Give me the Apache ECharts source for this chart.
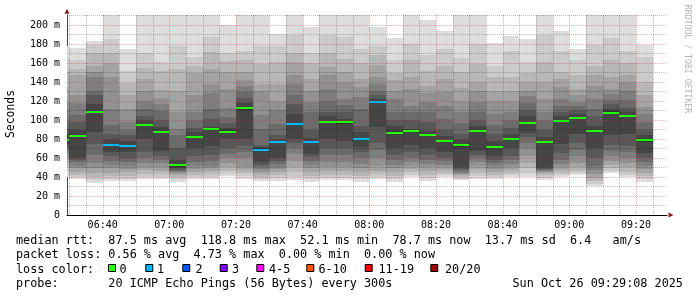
<!DOCTYPE html>
<html><head><meta charset="utf-8">
<script src="https://cdn.jsdelivr.net/npm/echarts@6/dist/echarts.min.js"></script>
<style>html,body{margin:0;padding:0;background:#fff}#c{width:697px;height:297px}</style>
</head><body><div id="c"></div>
<script>
// ---- data ----
const barStarts = ['06:25','06:30','06:35','06:40','06:45','06:50','06:55','07:00','07:05','07:10','07:15','07:20',
  '07:25','07:30','07:35','07:40','07:45','07:50','07:55','08:00','08:05','08:10','08:15','08:20',
  '08:25','08:30','08:35','08:40','08:45','08:50','08:55','09:00','09:05','09:10','09:15','09:20'];
// 20 sorted ping RTTs (ms) per 5-minute step
const pings = [
  [40,45,50,55,60,64,68,72,75,77,80,85,92,100,110,120,135,150,165,178],
  [38,40,42,45,49,52,56,58,60,82,84,89,98,105,118,126,147,154,163,176],
  [34,37,40,44,49,55,63,75,87,108,109,117,126,131,145,150,157,170,179,183],
  [36,38,41,44,49,53,57,62,66,73,75,80,85,95,112,145,160,171,185,215],
  [36,38,41,45,48,52,56,59,66,72,74,78,84,89,98,112,126,139,152,175],
  [38,40,43,47,51,55,60,66,80,94,96,100,104,112,120,130,143,155,170,215],
  [38,40,43,46,50,55,58,62,67,86,88,93,100,109,117,123,132,152,161,215],
  [35,38,40,42,44,45,46,47,49,51,53,58,70,84,91,108,130,154,178,215],
  [38,40,42,45,48,52,56,62,70,81,83,87,92,100,108,126,149,157,166,215],
  [38,40,43,46,49,52,57,63,73,90,91,93,101,112,128,138,154,172,187,215],
  [41,43,46,50,55,60,64,71,80,87,89,92,97,103,113,133,150,162,171,200],
  [38,41,44,47,51,60,66,73,80,111,114,118,123,129,136,142,150,163,173,215],
  [36,38,40,43,45,48,50,53,56,68,70,72,74,90,105,130,138,159,178,215],
  [36,39,42,45,48,51,54,57,60,76,78,80,84,96,111,120,138,161,178,191],
  [37,40,45,50,57,64,70,76,80,95,97,106,117,126,138,147,161,171,189,215],
  [35,38,41,45,49,53,57,61,64,76,78,81,89,108,119,130,143,160,171,198],
  [37,39,42,46,50,56,63,70,80,97,98,104,108,120,133,147,156,171,189,215],
  [37,39,42,46,50,56,63,70,78,96,98,101,108,116,122,140,150,164,187,212],
  [35,38,41,45,49,54,60,66,72,79,81,87,94,112,124,135,143,160,175,215],
  [38,40,43,46,52,60,68,76,93,118,120,122,126,131,138,145,158,168,178,198],
  [35,38,41,45,49,53,58,63,70,86,88,94,100,108,122,131,142,149,163,186],
  [40,42,45,48,52,56,60,66,74,88,89,91,100,108,115,133,145,163,180,215],
  [36,39,42,46,50,54,58,63,70,83,85,88,98,108,119,128,136,152,168,205],
  [40,42,44,47,50,53,57,60,66,77,79,83,89,101,115,129,143,157,175,194],
  [37,38,40,42,43,44,46,48,50,72,74,80,85,97,108,120,134,150,165,215],
  [38,41,44,48,52,56,60,63,67,87,89,94,100,108,119,130,140,159,180,215],
  [38,40,42,45,48,52,55,58,62,71,73,78,85,95,106,120,130,145,157,181],
  [40,42,44,47,50,54,58,62,70,79,81,85,92,100,108,120,130,145,173,188],
  [40,44,49,55,62,70,76,82,86,96,98,104,110,118,125,131,140,149,161,185],
  [37,39,42,44,45,46,47,48,50,76,78,82,89,100,108,122,140,161,189,215],
  [40,42,44,47,50,54,58,65,75,98,100,104,108,115,122,135,143,150,173,194],
  [42,44,46,50,55,62,68,76,85,102,103,106,110,115,119,126,133,147,163,175],
  [30,33,36,39,43,47,52,60,70,87,89,94,104,112,122,136,147,157,179,215],
  [44,46,49,53,57,62,67,74,84,107,109,112,117,121,127,133,145,163,186,215],
  [40,42,45,50,55,60,66,73,85,103,105,108,113,121,130,140,147,160,173,215],
  [35,38,41,44,48,52,56,60,65,77,79,84,89,98,106,114,126,140,166,179]
];
const medians = [78.5,83,108.7,74,72.8,95,87.4,52.1,81.8,90.5,87.7,112.6,68.8,77,95.8,76.8,97.4,97.4,80.2,118.8,
  86.5,88.4,84.2,77.8,73.4,88.4,71.9,80,97.2,77,99.3,102.6,88.4,107.7,104.2,78.5];
const lossCounts = [0,0,0,1,1,0,0,0,0,0,0,0,1,1,1,1,0,0,1,1,0,0,0,0,0,0,0,0,0,0,0,0,0,0,0,0];
const lossLabels = ['0','1','2','3','4-5','6-10','11-19','20/20'];
const lossColors = ['#26ff00','#00b8ff','#0059ff','#7e00ff','#ff00ff','#ff5500','#ff0000','#a10000'];
const xTickLabels = ['06:40','07:00','07:20','07:40','08:00','08:20','08:40','09:00','09:20'];
const yTickValues = [0,20,40,60,80,100,120,140,160,180,200];
const viewStart = '06:29:18', viewEnd = '09:29:18';
const yMax = 210.5;
const statLines = [
  'median rtt:  87.5 ms avg  118.8 ms max  52.1 ms min  78.7 ms now  13.7 ms sd  6.4   am/s',
  'packet loss: 0.56 % avg  4.73 % max  0.00 % min  0.00 % now'
];
const probeText = 'probe:       20 ICMP Echo Pings (56 Bytes) every 300s';
const dateText = 'Sun Oct 26 09:29:08 2025';

// ---- helpers ----
function toMin(s){ const p = s.split(':').map(Number); return p[0]*60 + p[1] + (p[2]||0)/60; }
function fmtMin(m){ const h = Math.floor(m/60), mm = Math.round(m%60); return String(h).padStart(2,'0')+':'+String(mm).padStart(2,'0'); }
function lossIndex(n){ if(n<=3) return n; if(n<=5) return 4; if(n<=10) return 5; if(n<=19) return 6; return 7; }

const smokeData = barStarts.map((s,i) => {
  const t = toMin(s);
  return [t, t+5].concat(pings[i]).concat([medians[i], lossCounts[i]]);
});
const xMin = toMin(viewStart), xMax = toMin(viewEnd);

// grid line positions
const gridData = [];
for (let m = Math.ceil(xMin/5)*5; m < xMax; m += 5) gridData.push([0, m, m % 20 === 0 ? 1 : 0]);
for (let v = 10; v <= 210; v += 10) gridData.push([1, v, v % 20 === 0 ? 1 : 0]);

const MONO = 'DejaVu Sans Mono';

function renderSmoke(params, api){
  const cs = params.coordSys;
  const t0 = api.value(0), t1 = api.value(1);
  const children = [];
  for (let k = 0; k < 10; k++){
    const lo = api.value(2+k), hi = api.value(21-k);
    const a = api.coord([t0, lo]), b = api.coord([t1, hi]);
    const x0 = Math.round(a[0]), x1 = Math.round(b[0]);
    const y0 = Math.round(b[1]), y1 = Math.round(a[1]);
    const shape = echarts.graphic.clipRectByRect({x:x0, y:y0, width:x1-x0, height:y1-y0}, cs);
    if (!shape) continue;
    const g = Math.floor(190/10*(10-(k+1))) + 50;
    children.push({type:'rect', shape, style:{fill:'rgb('+g+','+g+','+g+')'}});
  }
  const med = api.value(22), loss = api.value(23);
  const a = api.coord([t0, med]), b = api.coord([t1, med]);
  const x0 = Math.round(a[0]), x1 = Math.round(b[0]);
  const ym = Math.round(a[1]);
  const ms = echarts.graphic.clipRectByRect({x:x0, y:ym-1, width:x1-x0, height:2}, cs);
  if (ms) children.push({type:'rect', shape: ms, style:{fill: lossColors[lossIndex(loss)]}});
  return {type:'group', children};
}

function renderGrid(params, api){
  const cs = params.coordSys;
  const kind = api.value(0), v = api.value(1), major = api.value(2);
  const stroke = major ? 'rgba(210,40,40,0.38)' : 'rgba(0,0,0,0.26)';
  let shape;
  if (kind === 0){
    const x = Math.round(api.coord([v, 0])[0]) + 0.5;
    shape = {x1:x, y1:cs.y, x2:x, y2:cs.y+cs.height};
  } else {
    const y = Math.round(api.coord([xMin, v])[1]) + 0.5;
    shape = {x1:cs.x, y1:y, x2:cs.x+cs.width, y2:y};
  }
  return {type:'line', shape, style:{stroke, lineWidth:1, lineDash:[1,1]}, silent:true};
}

const chart = echarts.init(document.getElementById('c'), null, {renderer:'canvas'});

const graphics = [];
statLines.forEach((s,i) => graphics.push({type:'text', x:16, y:241 + i*14.2,
  style:{text:s, font:'11.8px "'+MONO+'"', fill:'#000', textVerticalAlign:'middle'}}));
graphics.push({type:'text', x:16, y:269.6, style:{text:'loss color:', font:'11.8px "'+MONO+'"', fill:'#000', textVerticalAlign:'middle'}});
const boxX = [108.5,145.8,182.8,220.2,256.8,306.8,365.2,430.8];
const labX = [119.5,157,195.5,232,269,318.5,378.5,445];
lossLabels.forEach((l,i) => {
  graphics.push({type:'rect', shape:{x:boxX[i], y:264.5, width:7, height:7}, style:{fill:lossColors[i], stroke:'#000', lineWidth:1}});
  graphics.push({type:'text', x:labX[i], y:269.6, style:{text:l, font:'11.8px "'+MONO+'"', fill:'#000', textVerticalAlign:'middle'}});
});
graphics.push({type:'text', x:16, y:283.6, style:{text:probeText, font:'11.8px "'+MONO+'"', fill:'#000', textVerticalAlign:'middle'}});
graphics.push({type:'text', x:512.5, y:283.6, style:{text:dateText, font:'11.8px "'+MONO+'"', fill:'#000', textVerticalAlign:'middle'}});
graphics.push({type:'text', x:11, y:114, rotation:Math.PI/2,
  style:{text:'Seconds', font:'11.4px "'+MONO+'"', fill:'#000', textAlign:'center', textVerticalAlign:'middle'}});
graphics.push({type:'text', x:687.5, y:59, rotation:-Math.PI/2,
  style:{text:'RRDTOOL / TOBI OETIKER', font:'8.2px "'+MONO+'"', fill:'#b4b4b4', textAlign:'center', textVerticalAlign:'middle'}});

chart.setOption({
  animation:false,
  backgroundColor:'#ffffff',
  grid:{left:67, top:15, width:600, height:200, containLabel:false},
  xAxis:{type:'value', min:xMin, max:xMax,
    axisLine:{show:true, onZero:false, lineStyle:{color:'#000', width:1}},
    axisTick:{show:false, customValues: xTickLabels.map(toMin)},
    splitLine:{show:false},
    axisLabel:{customValues: xTickLabels.map(toMin), formatter:(v)=>fmtMin(v), fontFamily:MONO, fontSize:10, color:'#000', margin:5}
  },
  yAxis:{type:'value', min:0, max:yMax, interval:20,
    axisLine:{show:true, lineStyle:{color:'#444', width:1}},
    axisTick:{show:false},
    splitLine:{show:false},
    axisLabel:{customValues: yTickValues, formatter:(v)=> v===0 ? '0' : v+' m', fontFamily:MONO, fontSize:10, color:'#000', margin:7}
  },
  graphic: graphics,
  series:[
    {type:'custom', name:'smoke', renderItem:renderSmoke, data:smokeData, z:2, silent:true,
      encode:{x:[0,1], y:[2,21]},
      markPoint:{silent:true, label:{show:false}, animation:false, data:[
        {coord:[xMin, yMax], symbol:'triangle', symbolSize:[5,5], symbolOffset:[0,-3.7], itemStyle:{color:'#8b1a1a'}},
        {coord:[xMax, 0], symbol:'triangle', symbolSize:[5,5], symbolRotate:-90, symbolOffset:[4,0], itemStyle:{color:'#8b1a1a'}}
      ]}
    },
    {type:'custom', name:'grid', renderItem:renderGrid, data:gridData, z:4, silent:true, encode:{x:1, y:1}}
  ]
});
</script></body></html>
